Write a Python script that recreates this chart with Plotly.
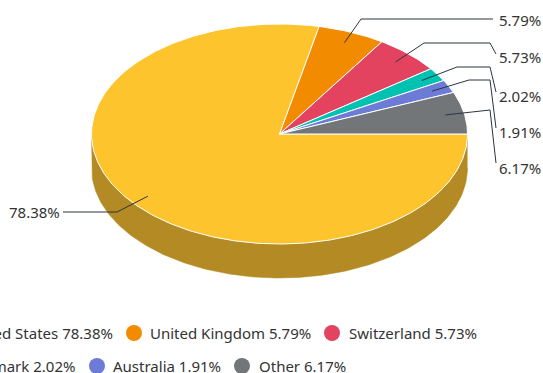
import numpy as np
import plotly.graph_objects as go

# ---- data ----
countries = ["United States", "United Kingdom", "Switzerland", "Denmark", "Australia", "Other"]
shares = [78.38, 5.79, 5.73, 2.02, 1.91, 6.17]

# ---- style / layout ----
colors = ["#fec42d", "#f28b00", "#e3435f", "#00c2b0", "#6c7bd6", "#727679"]
side_color = "#b38a23"
W, H = 543, 373
CX, CY, RX, RY, DEPTH = 279.5, 134, 188, 110, 34
FONT = "Noto Sans, Open Sans, sans-serif"
TXT = "#333333"
LINE = "#2d3440"
FS = 15

# label layout: (label y, elbow points between slice anchor and label)
label_y = [212, 20, 57, 96, 132, 168]
label_paths = [
    [(117, 212), (63, 212)],
    [(361, 19), (493, 19)],
    [(424, 43), (490, 43), (496, 54)],
    [(457, 67), (490, 67), (496, 92)],
    [(469, 80), (490, 80), (496, 128)],
    [(490, 110), (496, 163)],
]

fig = go.Figure()

def ell(theta, dy=0.0, f=1.0):
    return CX + RX * f * np.cos(theta), CY + dy + RY * f * np.sin(theta)

# side (front half visible)
t = np.linspace(0, np.pi, 200)
xt, yt = ell(t)
xb, yb = ell(t[::-1], DEPTH)
fig.add_trace(go.Scatter(x=np.concatenate([xt, xb]), y=np.concatenate([yt, yb]),
                         fill="toself", fillcolor=side_color, mode="lines",
                         line=dict(color=side_color, width=0.5),
                         hoverinfo="skip", showlegend=False))

# top slices
total = sum(shares)
cum = 0.0
mids = []
for v, c in zip(shares, colors):
    a0 = cum / total * 2 * np.pi
    a1 = (cum + v) / total * 2 * np.pi
    mids.append((a0 + a1) / 2)
    cum += v
    tt = np.linspace(a0, a1, max(4, int(v * 4)))
    x, y = ell(tt)
    xs = np.concatenate([[CX], x, [CX]])
    ys = np.concatenate([[CY], y, [CY]])
    fig.add_trace(go.Scatter(x=xs, y=ys, fill="toself", fillcolor=c, mode="lines",
                             line=dict(color="white", width=1),
                             hoverinfo="skip", showlegend=False))

# connectors and data labels
annotations = []
for i, (v, m) in enumerate(zip(shares, mids)):
    sx, sy = ell(m, f=0.9)
    pts = [(sx, sy)] + label_paths[i]
    fig.add_trace(go.Scatter(x=[p[0] for p in pts], y=[p[1] for p in pts], mode="lines",
                             line=dict(color=LINE, width=1), hoverinfo="skip", showlegend=False))
    if i == 0:
        annotations.append(dict(x=62, y=label_y[i], text=f"{v:.2f}%", xanchor="right",
                                yanchor="middle", showarrow=False,
                                font=dict(family=FONT, size=FS, color=TXT)))
    else:
        annotations.append(dict(x=497, y=label_y[i], text=f"{v:.2f}%", xanchor="left",
                                yanchor="middle", showarrow=False,
                                font=dict(family=FONT, size=FS, color=TXT)))

# legend (manually laid out, overflowing on the left as in the reference)
leg_items = [
    # (marker x, text anchor x, anchor side, y)
    (-80, 114.5, "right", 333),
    (134, 148, "left", 333),
    (332, 347, "left", 333),
    (-60, 77, "right", 366),
    (97, 111, "left", 366),
    (242, 257, "left", 366),
]
for (mx, tx, side, ly), name, v, c in zip(leg_items, countries, shares, colors):
    fig.add_trace(go.Scatter(x=[mx], y=[ly], mode="markers",
                             marker=dict(size=16, color=c, line=dict(width=0)),
                             hoverinfo="skip", showlegend=False, cliponaxis=False))
    annotations.append(dict(x=tx, y=ly, text=f"{name} {v:.2f}%", xanchor=side,
                            yanchor="middle", showarrow=False,
                            font=dict(family=FONT, size=FS, color=TXT)))

fig.update_layout(
    width=W, height=H,
    margin=dict(l=0, r=0, t=0, b=0),
    paper_bgcolor="white", plot_bgcolor="white",
    xaxis=dict(range=[0, W], visible=False, fixedrange=True),
    yaxis=dict(range=[H, 0], visible=False, fixedrange=True),
    annotations=annotations,
    hovermode=False,
)

fig.write_html("out.html", config={"displayModeBar": False})
